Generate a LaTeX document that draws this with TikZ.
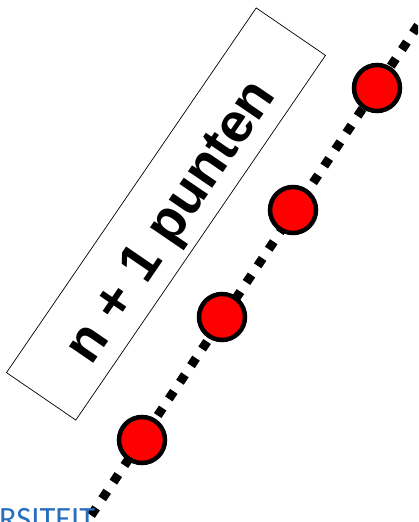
\documentclass[tikz,border=0pt]{standalone}
\usepackage{fontspec}
\setmainfont{Liberation Sans}
\newfontfamily\lbfont{Liberation Sans Bold}
\newfontfamily\unifont{Carlito}
\definecolor{unblue}{RGB}{40,110,190}
\definecolor{ptred}{RGB}{255,0,0}
\tikzset{
  pt/.style={circle, draw=black, line width=4.5pt, fill=ptred, minimum size=46pt, inner sep=0pt},
  dotline/.style={line width=9pt, dash pattern=on 9pt off 11pt, black},
  labelbox/.style={draw=black, line width=0.7pt, minimum width=442pt, minimum height=84pt, inner sep=0pt, rotate=55.6}
}
\begin{document}
\begin{tikzpicture}[x=1pt,y=1pt]
\useasboundingbox (0,0) rectangle (418,522);
\clip (0,0) rectangle (418,522);
\coordinate (lineA) at (80,-10);
\coordinate (lineB) at (437,525);
\node[labelbox] (box) at (166,308) {};
\node[rotate=55.6, font=\lbfont\fontsize{55.5}{60}\selectfont] (lbl) at ([shift={(7,-9)}]box.center) {n + 1 punten};
\draw[dotline] (lineA) -- (lineB);
\node[pt] (p1) at (142,82) {};
\node[pt] (p2) at (222,205) {};
\node[pt] (p3) at (293,312) {};
\node[pt] (p4) at (377,434) {};
\node[anchor=base west, inner sep=0pt, text=unblue, font=\unifont\fontsize{32.5}{34}\selectfont] (uni) at (-1,-7) {RSITEIT};
\end{tikzpicture}
\end{document}
